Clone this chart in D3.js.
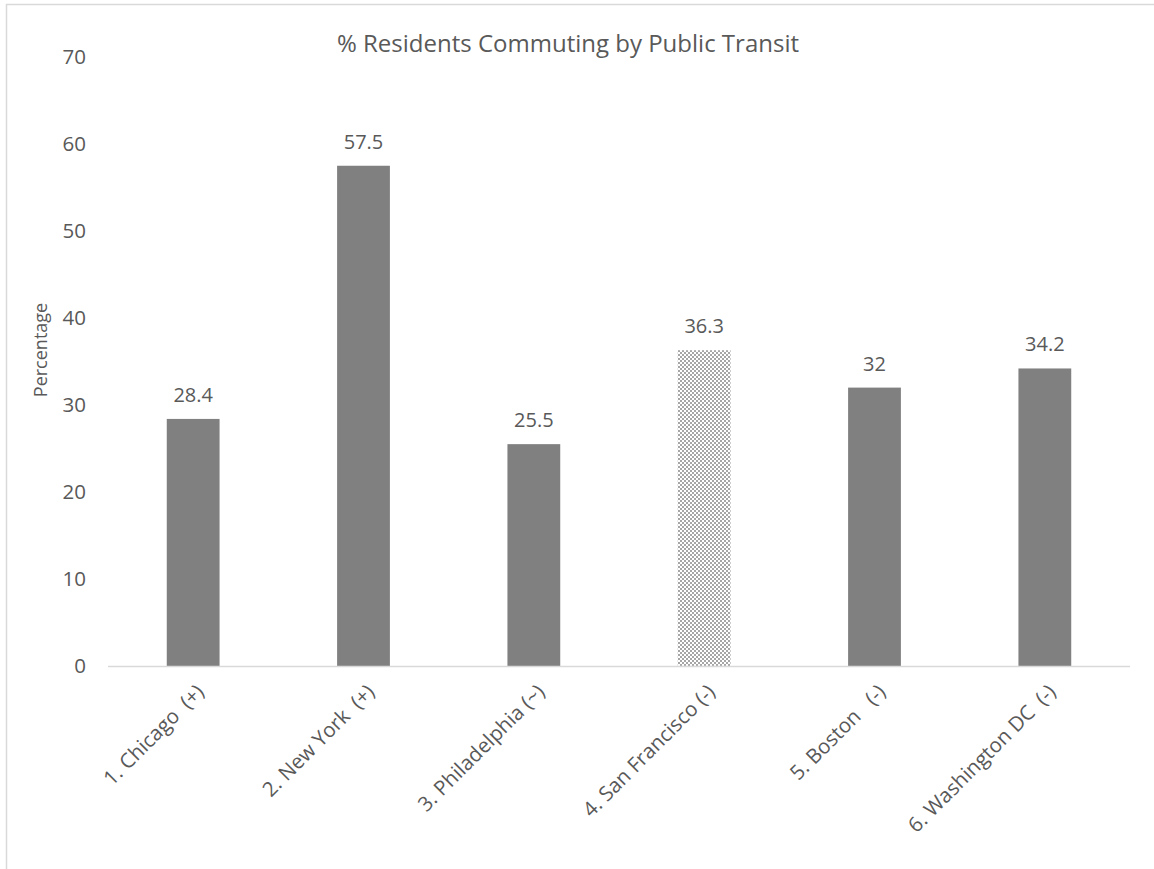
<!DOCTYPE html>
<html><head><meta charset="utf-8">
<script src="https://cdn.jsdelivr.net/npm/d3@7"></script>
<style>
html,body{margin:0;padding:0;background:#fff;}
text{font-family:"Open Sans","Noto Sans",sans-serif;fill:#595959;}
</style></head>
<body><svg id="c" width="1154" height="869"></svg>
<script>
const categories = ["1. Chicago  (+)", "2. New York  (+)", "3. Philadelphia (~)", "4. San Francisco (-)", "5. Boston   (-)", "6. Washington DC  (-)"];
const values = [28.4, 57.5, 25.5, 36.3, 32, 34.2];
const labels = ["28.4", "57.5", "25.5", "36.3", "32", "34.2"];
const patterned = [false, false, false, true, false, false];
const yTicks = [0, 10, 20, 30, 40, 50, 60, 70];
const title = "% Residents Commuting by Public Transit";
const yTitle = "Percentage";

const svg = d3.select("#c");
const defs = svg.append("defs");
const pat = defs.append("pattern").attr("id","checker").attr("patternUnits","userSpaceOnUse")
  .attr("width",4).attr("height",4);
pat.append("rect").attr("width",4).attr("height",4).attr("fill","#fff");
pat.append("rect").attr("x",0).attr("y",0).attr("width",2).attr("height",2).attr("fill","#a6a6a6");
pat.append("rect").attr("x",2).attr("y",2).attr("width",2).attr("height",2).attr("fill","#a6a6a6");

// outer chart border (only top/left visible in frame)
svg.append("rect").attr("x",6.5).attr("y",4.5).attr("width",1200).attr("height",1000)
  .attr("fill","none").attr("stroke","#d9d9d9").attr("stroke-width",1.5);

const x = d3.scaleBand().domain(categories).range([108,1130]).paddingInner(0.69).paddingOuter(0.345);
const y = d3.scaleLinear().domain([0,70]).range([666,57]);

// y tick labels
svg.append("g").selectAll("text").data(yTicks).join("text")
  .attr("x",86).attr("y",d=>y(d)).attr("dy","0.36em").attr("text-anchor","end")
  .style("font-size","20.5px").text(d=>d);

// bars
svg.append("g").selectAll("rect").data(values).join("rect")
  .attr("x",(d,i)=>x(categories[i])).attr("width",x.bandwidth())
  .attr("y",d=>y(d)).attr("height",d=>y(0)-y(d))
  .attr("fill",(d,i)=>patterned[i]?"url(#checker)":"#808080");

// axis line
svg.append("line").attr("x1",108).attr("x2",1130).attr("y1",666.5).attr("y2",666.5)
  .attr("stroke","#d9d9d9").attr("stroke-width",1.5);

// data labels
svg.append("g").selectAll("text").data(values).join("text")
  .attr("x",(d,i)=>x(categories[i])+x.bandwidth()/2).attr("y",d=>y(d)-17)
  .attr("text-anchor","middle").style("font-size","20px").text((d,i)=>labels[i]);

// x labels
svg.append("g").selectAll("text").data(categories).join("text")
  .attr("transform",d=>`translate(${x(d)+x.bandwidth()/2+7},688) rotate(-45)`)
  .attr("text-anchor","end").attr("dy","0.36em")
  .style("font-size","20.5px").style("white-space","pre").text(d=>d);

// title
svg.append("text").attr("x",568).attr("y",52).attr("text-anchor","middle")
  .style("font-size","24px").text(title);

// y title
svg.append("text").attr("transform","translate(47,350) rotate(-90)").attr("text-anchor","middle")
  .style("font-size","18px").text(yTitle);
</script></body></html>
